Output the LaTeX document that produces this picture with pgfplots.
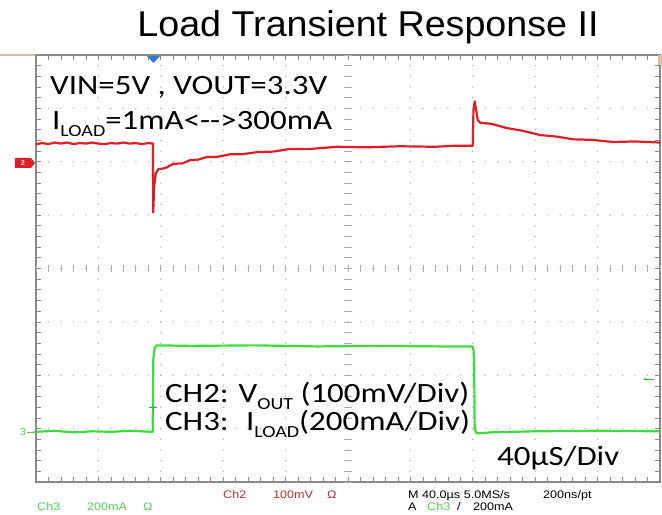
\documentclass[border=0pt]{standalone}
\usepackage{pgfplots}
\pgfplotsset{compat=1.18}
\usetikzlibrary{arrows.meta}
\usepackage{fontspec}
\setmainfont{Liberation Sans}
\newfontfamily\arial[FakeStretch=1.05]{Liberation Sans}
\newfontfamily\scopefont[FakeStretch=1.15]{Liberation Sans}
\newfontfamily\calibri[FakeStretch=1.18]{Carlito}
\definecolor{tred}{RGB}{225,30,35}
\definecolor{tgreen}{RGB}{60,222,60}
\definecolor{lgreen}{RGB}{90,200,90}
\definecolor{dred}{RGB}{175,50,50}
\definecolor{frame}{RGB}{140,135,140}
\definecolor{tan}{RGB}{220,190,160}
\definecolor{tblue}{RGB}{50,120,210}
\newcommand{\sub}[1]{\raisebox{-0.22em}{\fontsize{17}{17}\selectfont #1}}
\begin{document}
\begin{tikzpicture}[x=1bp,y=1bp]
\path[use as bounding box] (0,0) rectangle (662,515);
\begin{axis}[
  at={(36bp,33bp)}, anchor=south west,
  scale only axis, width=624bp, height=427bp,
  xmin=0, xmax=10, ymin=-4, ymax=4,
  xtick={0,...,10}, ytick={-4,...,4},
  minor x tick num=4, minor y tick num=4,
  xticklabels={}, yticklabels={},
  xtick pos=both, ytick pos=both,
  tick align=inside,
  major tick length=5bp, minor tick length=5bp,
  tick style={frame, line width=0.7bp},
  axis line style={draw=frame, line width=1.3bp},
  grid=major,
  x grid style={gray!60, line width=1.6bp, line cap=round, dash pattern=on 0bp off 10.675bp},
  y grid style={gray!60, line width=1.6bp, line cap=round, dash pattern=on 0bp off 12.48bp},
  clip=false,
]
% centre graticule ticks
\pgfplotsinvokeforeach{0,0.2,...,10.01}{
  \draw[gray!65, line width=0.7bp] (axis cs:#1,-0.07) -- (axis cs:#1,0.07);
}
\pgfplotsinvokeforeach{-4,-3.8,...,4.01}{
  \draw[gray!65, line width=0.7bp] (axis cs:4.94,#1) -- (axis cs:5.06,#1);
}
% CH2 (red)
\addplot[tred, line width=2.2bp, line join=round] coordinates {
(0,2.33) (0.1,2.35) (0.2,2.33) (0.3,2.36) (0.4,2.34) (0.5,2.36) (0.6,2.33)
(0.7,2.35) (0.8,2.34) (0.9,2.36) (1.0,2.34) (1.1,2.33) (1.2,2.35) (1.3,2.34)
(1.4,2.36) (1.5,2.34) (1.6,2.35) (1.7,2.33) (1.8,2.35) (1.875,2.34)
(1.878,1.05) (1.895,1.55) (1.92,1.78) (1.96,1.86) (2.07,1.88) (2.2,1.96)
(2.35,1.97) (2.47,2.03) (2.6,2.04) (2.74,2.09) (2.9,2.09) (3.11,2.14)
(3.3,2.14) (3.54,2.18) (3.8,2.19) (4.07,2.24) (4.4,2.24) (4.82,2.28)
(5.3,2.27) (5.83,2.29) (6.4,2.28) (6.7,2.30) (7.0,2.30)
(7.01,2.95) (7.03,3.13) (7.05,3.0) (7.08,2.78) (7.12,2.73) (7.3,2.71)
(7.55,2.63) (7.8,2.58) (8.08,2.50) (8.35,2.47) (8.61,2.42) (8.9,2.41)
(9.25,2.37) (9.6,2.38) (10,2.36)
};
% CH3 (green)
\addplot[tgreen, line width=2.2bp, line join=round] coordinates {
(0,-3.06) (0.3,-3.04) (0.6,-3.07) (0.9,-3.05) (1.2,-3.06) (1.5,-3.04) (1.87,-3.06)
(1.88,-1.7) (1.90,-1.50) (1.93,-1.44) (2.5,-1.45) (3.5,-1.44) (4.5,-1.46)
(5.5,-1.45) (6.5,-1.46) (7.0,-1.46)
(7.02,-1.6) (7.03,-3.0) (7.06,-3.09) (7.3,-3.07) (8,-3.05) (9,-3.04) (10,-3.05)
};
\end{axis}
% scope decorations
\draw[tan, line width=2bp] (0,460) -- (35,460);
\fill[tan] (658,450) rectangle (662,460);
\fill[tblue] (147,459) -- (160,459) -- (153.5,452) -- cycle;
\fill[tred] (15,357) -- (31,357) -- (35,352) -- (31,347) -- (15,347) -- cycle;
\node[text=white, font=\arial\fontsize{7}{7}\selectfont\bfseries, inner sep=0] at (23,352) {2};
\node[text=lgreen, font=\arial\fontsize{10}{10}\selectfont, inner sep=0] at (23,83) {3};
\draw[lgreen, line width=0.8bp, -{Stealth[length=3bp]}] (27,83) -- (36,83);
\draw[tgreen!80!black, line width=0.9bp, -{Stealth[length=3bp]}] (654,136) -- (643,136);
\draw[tgreen!80!black, line width=0.9bp] (149,108) -- (157,108) (153,108) -- (153,102);
% texts
\node[anchor=base, inner sep=0] at (368,478) {\arial\fontsize{36}{40}\selectfont Load Transient Response II};
\node[anchor=base west, inner sep=0] at (50,420) {\calibri\fontsize{28}{30}\selectfont VIN=5V , VOUT=3.3V};
\node[anchor=base west, inner sep=0] at (52,385) {\calibri\fontsize{28}{30}\selectfont I\sub{LOAD}=1mA<-{}->300mA};
\node[anchor=base west, inner sep=0] at (165,112) {\calibri\fontsize{28}{30}\selectfont CH2: V\sub{OUT} (100mV/Div)};
\node[anchor=base west, inner sep=0] at (165,84) {\calibri\fontsize{28}{30}\selectfont CH3: \ I\sub{LOAD}(200mA/Div)};
\node[anchor=base west, inner sep=0] at (497,49) {\calibri\fontsize{28}{30}\selectfont 40µS/Div};
% bottom scope readout
\begin{scope}[every node/.style={anchor=base west, inner sep=0, font=\scopefont\fontsize{11}{12}\selectfont}]
\node[text=dred] at (223,16) {Ch2};
\node[text=dred] at (273,16) {100mV};
\node[text=dred] at (327,16) {Ω};
\node at (408,16) {M 40.0µs 5.0MS/s};
\node at (543,16) {200ns/pt};
\node[text=lgreen] at (37,4) {Ch3};
\node[text=lgreen] at (87,4) {200mA};
\node[text=lgreen] at (143,4) {Ω};
\node at (408,4) {A};
\node[text=lgreen] at (427,4) {Ch3};
\node at (457,4) {/};
\node at (473,4) {200mA};
\end{scope}
\end{tikzpicture}
\end{document}
